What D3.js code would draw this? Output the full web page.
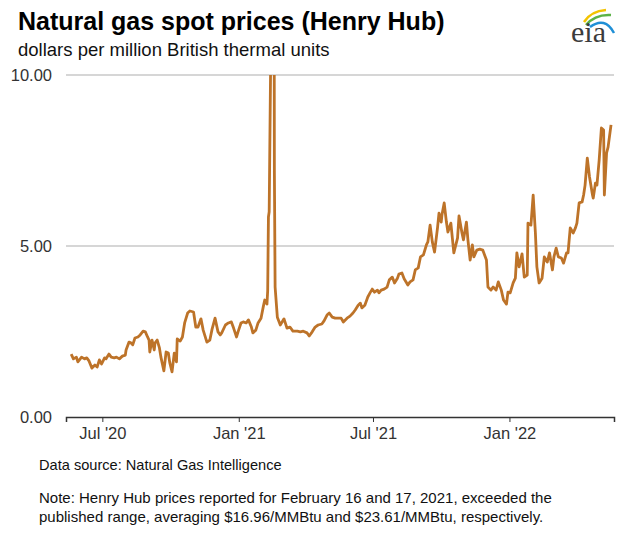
<!DOCTYPE html>
<html>
<head>
    <meta charset="utf-8">
    <title>Natural gas spot prices (Henry Hub)</title>
    <script src="https://d3js.org/d3.v7.min.js"></script>
    <style>
        body {
            margin: 0;
            background: #fff;
            font-family: Arial, 'Liberation Sans', sans-serif;
        }
        svg text {
            font-family: Arial, 'Liberation Sans', sans-serif;
        }
        svg text.logo {
            font-family: 'Liberation Serif', 'Times New Roman', 'DejaVu Serif', serif;
        }
    </style>
</head>
<body>
    <div id="chart"></div>
    <script>
        // values (dollars per MMBtu)
        const dates = [
            '2020-05-20', '2020-05-23', '2020-05-27', '2020-05-29', '2020-06-03', '2020-06-07', '2020-06-10', '2020-06-13',
            '2020-06-17', '2020-06-21', '2020-06-24', '2020-06-27', '2020-06-30', '2020-07-04', '2020-07-06', '2020-07-10',
            '2020-07-13', '2020-07-17', '2020-07-20', '2020-07-24', '2020-07-28', '2020-08-01', '2020-08-02', '2020-08-06',
            '2020-08-09', '2020-08-11', '2020-08-14', '2020-08-18', '2020-08-21', '2020-08-25', '2020-08-28', '2020-08-31',
            '2020-09-02', '2020-09-03', '2020-09-06', '2020-09-09', '2020-09-10', '2020-09-13', '2020-09-16', '2020-09-18',
            '2020-09-22', '2020-09-25', '2020-09-28', '2020-09-30', '2020-10-03', '2020-10-06', '2020-10-09', '2020-10-10',
            '2020-10-14', '2020-10-17', '2020-10-20', '2020-10-24', '2020-10-27', '2020-11-01', '2020-11-04', '2020-11-07',
            '2020-11-11', '2020-11-14', '2020-11-19', '2020-11-23', '2020-11-26', '2020-11-30', '2020-12-04', '2020-12-07',
            '2020-12-09', '2020-12-14', '2020-12-18', '2020-12-22', '2020-12-25', '2020-12-29', '2020-12-31',
            '2021-01-04', '2021-01-07', '2021-01-11', '2021-01-14', '2021-01-18', '2021-01-20', '2021-01-24', '2021-01-27',
            '2021-01-31', '2021-02-03', '2021-02-05', '2021-02-08', '2021-02-09', '2021-02-10', '2021-02-11', '2021-02-16',
            '2021-02-17', '2021-02-18', '2021-02-19', '2021-02-22', '2021-02-26', '2021-03-03', '2021-03-07', '2021-03-11',
            '2021-03-15', '2021-03-21', '2021-03-25', '2021-03-29', '2021-04-03', '2021-04-06', '2021-04-10', '2021-04-14',
            '2021-04-18', '2021-04-23', '2021-04-26', '2021-04-30', '2021-05-03', '2021-05-07', '2021-05-11', '2021-05-15',
            '2021-05-19', '2021-05-22', '2021-05-27', '2021-05-31', '2021-06-04', '2021-06-07', '2021-06-11', '2021-06-14',
            '2021-06-16', '2021-06-20', '2021-06-24', '2021-06-27', '2021-06-30', '2021-07-03', '2021-07-07', '2021-07-09',
            '2021-07-12', '2021-07-16', '2021-07-20', '2021-07-23', '2021-07-27', '2021-07-30', '2021-08-03', '2021-08-05',
            '2021-08-09', '2021-08-12', '2021-08-17', '2021-08-20', '2021-08-24', '2021-08-27', '2021-08-31', '2021-09-03',
            '2021-09-07', '2021-09-11', '2021-09-13', '2021-09-16', '2021-09-19', '2021-09-22', '2021-09-26', '2021-09-28',
            '2021-10-01', '2021-10-02', '2021-10-05', '2021-10-08', '2021-10-10', '2021-10-14', '2021-10-18', '2021-10-23',
            '2021-10-25', '2021-10-29', '2021-10-31', '2021-11-04', '2021-11-06', '2021-11-09', '2021-11-12', '2021-11-14',
            '2021-11-18', '2021-11-22', '2021-11-26', '2021-12-01', '2021-12-03', '2021-12-07', '2021-12-10', '2021-12-14',
            '2021-12-17', '2021-12-21', '2021-12-24', '2021-12-28', '2021-12-30',
            '2022-01-02', '2022-01-06', '2022-01-09', '2022-01-11', '2022-01-14', '2022-01-18', '2022-01-21', '2022-01-25',
            '2022-01-26', '2022-01-30', '2022-02-02', '2022-02-05', '2022-02-07', '2022-02-10', '2022-02-14', '2022-02-17',
            '2022-02-21', '2022-02-24', '2022-02-28', '2022-03-02', '2022-03-05', '2022-03-08', '2022-03-12', '2022-03-15',
            '2022-03-19', '2022-03-21', '2022-03-24', '2022-03-28', '2022-03-31', '2022-04-02', '2022-04-05', '2022-04-09',
            '2022-04-11', '2022-04-13', '2022-04-16', '2022-04-19', '2022-04-23', '2022-04-24', '2022-04-27', '2022-04-29',
            '2022-05-02', '2022-05-05', '2022-05-08', '2022-05-09', '2022-05-12', '2022-05-14', '2022-05-18'
        ]
        const prices = [
            1.84, 1.70, 1.75, 1.61, 1.75, 1.70, 1.73, 1.64,
            1.43, 1.52, 1.46, 1.67, 1.55, 1.73, 1.70, 1.84,
            1.75, 1.73, 1.75, 1.70, 1.78, 1.81, 1.96, 2.19,
            2.16, 2.11, 2.31, 2.34, 2.40, 2.51, 2.49, 2.34,
            2.25, 1.90, 2.25, 1.96, 2.16, 2.25, 2.02, 1.75,
            1.35, 1.90, 1.87, 1.58, 1.32, 1.87, 1.61, 2.28,
            2.22, 2.34, 2.75, 3.04, 3.10, 3.07, 2.63, 2.63,
            2.87, 2.54, 2.19, 2.25, 2.57, 2.89, 2.49, 2.40,
            2.46, 2.69, 2.75, 2.78, 2.60, 2.34, 2.49,
            2.75, 2.78, 2.75, 2.84, 2.63, 2.46, 2.54, 2.75,
            2.89, 3.22, 3.42, 3.30, 3.70, 5.85, 6.00, 16.96,
            23.61, 7.20, 3.80, 2.92, 2.69, 2.87, 2.60, 2.63,
            2.51, 2.51, 2.49, 2.51, 2.46, 2.37, 2.49, 2.63,
            2.69, 2.72, 2.81, 2.98, 3.04, 2.92, 2.89, 2.89,
            2.89, 2.78, 2.89, 2.95, 3.04, 3.13, 3.27, 3.33,
            3.19, 3.27, 3.51, 3.63, 3.74, 3.65, 3.71, 3.63,
            3.71, 3.74, 3.80, 4.01, 4.09, 3.92, 4.06, 4.18,
            4.21, 4.04, 3.86, 3.95, 4.01, 4.30, 4.36, 4.68,
            4.74, 5.03, 5.12, 5.61, 5.12, 4.82, 5.53, 5.96,
            5.70, 5.91, 6.26, 5.70, 5.41, 5.67, 4.80, 5.23,
            5.88, 5.38, 5.18, 5.70, 5.18, 4.59, 5.03, 4.68,
            4.88, 4.91, 4.88, 4.59, 3.80, 3.71, 3.80, 3.71,
            3.95, 3.71, 3.42, 3.30, 3.65,
            3.63, 3.92, 4.06, 4.80, 4.39, 4.77, 4.09, 4.15,
            5.67, 5.61, 6.49, 5.38, 4.39, 3.92, 4.06, 4.68,
            4.53, 4.80, 4.30, 4.68, 4.94, 4.68, 4.65, 4.50,
            4.80, 4.80, 5.53, 5.38, 5.53, 5.67, 6.26, 6.29,
            6.49, 6.78, 7.57, 7.02, 6.49, 6.40, 6.84, 6.78,
            7.51, 8.45, 8.39, 6.49, 7.72, 7.89, 8.54
        ]
        const xTickDates = ['2020-07-01', '2021-01-01', '2021-07-01', '2022-01-01']
        const xTickLabels = ["Jul '20", "Jan '21", "Jul '21", "Jan '22"]
        const yTicks = [0, 5, 10]
        const xDomain = ['2020-05-13', '2022-05-22']

        const w = 626
        const h = 553
        const margin = { top: 75, right: 12, bottom: 136, left: 66 }

        const parse = d3.timeParse('%Y-%m-%d')
        const data = dates.map((d, i) => ({ date: parse(d), value: prices[i] }))

        const svg = d3.select('#chart')
            .append('svg')
            .attr('width', w)
            .attr('height', h)

        const x = d3.scaleTime()
            .domain(xDomain.map(parse))
            .range([margin.left, w - margin.right])

        const y = d3.scaleLinear()
            .domain([0, 10])
            .range([h - margin.bottom, margin.top])

        // title block
        svg.append('text')
            .attr('x', 18)
            .attr('y', 30)
            .attr('font-size', 25)
            .attr('font-weight', 'bold')
            .attr('fill', '#000')
            .text('Natural gas spot prices (Henry Hub)')

        svg.append('text')
            .attr('x', 18)
            .attr('y', 56)
            .attr('font-size', 18.5)
            .attr('fill', '#111')
            .text('dollars per million British thermal units')

        // eia logo
        const logo = svg.append('g').attr('transform', 'translate(571,6)')
        logo.append('path')
            .attr('d', 'M13,16 Q20,5 35,4')
            .attr('fill', 'none').attr('stroke', '#f3c300').attr('stroke-width', 2.5)
        logo.append('path')
            .attr('d', 'M15,19 Q24,8 40,9')
            .attr('fill', 'none').attr('stroke', '#5cb247').attr('stroke-width', 2.5)
        logo.append('path')
            .attr('d', 'M19,21 Q34,10 43,27')
            .attr('fill', 'none').attr('stroke', '#1f8fd6').attr('stroke-width', 2.5)
        logo.append('text')
            .attr('class', 'logo')
            .attr('x', 0)
            .attr('y', 36)
            .attr('font-size', 30)
            .attr('fill', '#3c3c3c')
            .text('eia')

        // gridlines
        svg.append('g')
            .selectAll('line')
            .data(yTicks.filter(d => d > 0))
            .enter()
            .append('line')
            .attr('x1', margin.left)
            .attr('x2', w - margin.right)
            .attr('y1', d => y(d))
            .attr('y2', d => y(d))
            .attr('stroke', '#c8c8c8')
            .attr('stroke-width', 1.5)

        // y labels
        svg.append('g')
            .selectAll('text')
            .data(yTicks)
            .enter()
            .append('text')
            .attr('x', 52)
            .attr('y', d => y(d))
            .attr('dy', '0.35em')
            .attr('text-anchor', 'end')
            .attr('font-size', 16.5)
            .attr('fill', '#333')
            .text(d => d3.format('.2f')(d))

        // x axis
        const xAxis = d3.axisBottom(x)
            .tickValues(xTickDates.map(parse))
            .tickFormat((d, i) => xTickLabels[i])
            .tickSize(5)
            .tickPadding(5)

        const gx = svg.append('g')
            .attr('transform', `translate(0,${y(0)})`)
            .call(xAxis)
        gx.select('.domain').attr('stroke', '#333').attr('stroke-width', 1.5)
        gx.selectAll('.tick line').attr('stroke', '#333')
        gx.selectAll('.tick text')
            .attr('font-size', 16.5)
            .attr('fill', '#333')

        // price line, clipped at the top of the published range
        svg.append('clipPath')
            .attr('id', 'clip')
            .append('rect')
            .attr('x', margin.left)
            .attr('y', y(10))
            .attr('width', w - margin.left - margin.right)
            .attr('height', y(0) - y(10))

        const line = d3.line()
            .x(d => x(d.date))
            .y(d => y(d.value))

        svg.append('path')
            .datum(data)
            .attr('clip-path', 'url(#clip)')
            .attr('fill', 'none')
            .attr('stroke', '#bd7329')
            .attr('stroke-width', 2.8)
            .attr('stroke-linejoin', 'round')
            .attr('d', line)

        // footer
        svg.append('text')
            .attr('x', 39)
            .attr('y', 470)
            .attr('font-size', 14.6)
            .attr('fill', '#111')
            .text('Data source: Natural Gas Intelligence')

        const note = svg.append('text')
            .attr('x', 39)
            .attr('y', 503)
            .attr('font-size', 15)
            .attr('fill', '#111')
        note.append('tspan')
            .attr('x', 39)
            .text('Note: Henry Hub prices reported for February 16 and 17, 2021, exceeded the')
        note.append('tspan')
            .attr('x', 39)
            .attr('dy', 19)
            .text('published range, averaging $16.96/MMBtu and $23.61/MMBtu, respectively.')
    </script>
</body>
</html>
